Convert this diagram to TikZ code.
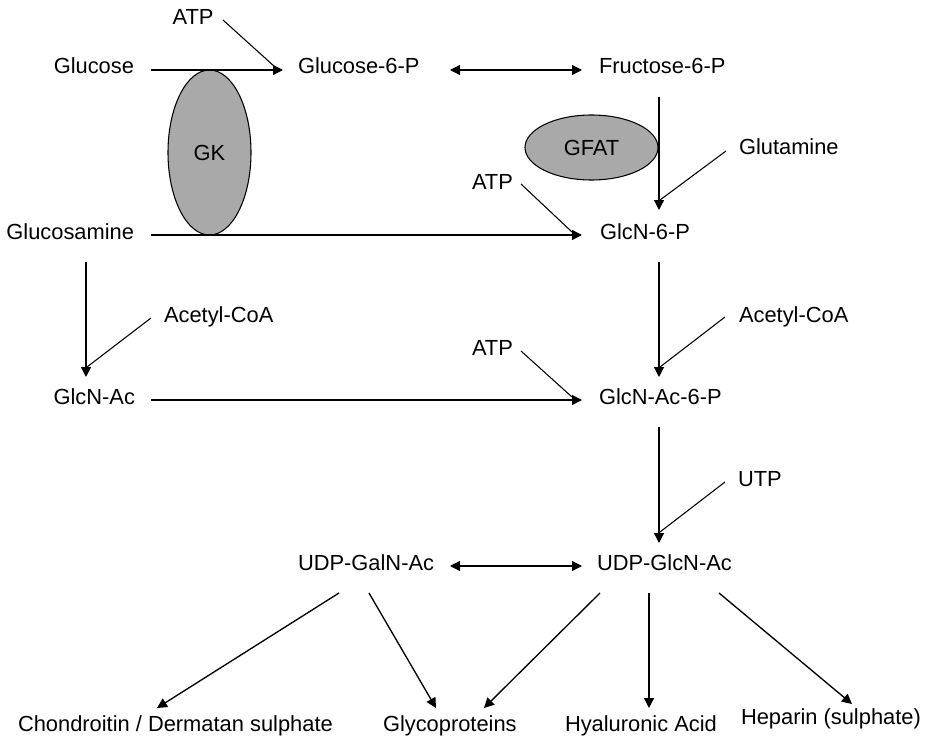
\documentclass[tikz,border=0pt]{standalone}
\usepackage{fontspec}
\setmainfont{Liberation Sans}
\usetikzlibrary{arrows.meta,calc,shapes.geometric}
\definecolor{enzgray}{RGB}{169,169,169}
\begin{document}
\begin{tikzpicture}[x=0.75pt,y=-0.75pt,
  lbl/.style={inner sep=0pt,outer sep=0pt,font=\fontsize{16.4}{19}\selectfont},
  enz/.style={ellipse,draw=black,line width=0.8pt,fill=enzgray,inner sep=0pt,font=\fontsize{16.4}{19}\selectfont},
  arr/.style={line width=1pt,-{Triangle[length=7.5pt,width=7.5pt]}},
  darr/.style={line width=1pt,{Triangle[length=7.5pt,width=7.5pt]}-{Triangle[length=7.5pt,width=7.5pt]}},
  side/.style={line width=0.8pt}]
\useasboundingbox (0,0) rectangle (936,742);
% nodes
\node[lbl,anchor=base east] (glucose) at (134,74) {Glucose};
\node[lbl,anchor=base west] (g6p) at (298,74) {Glucose-6-P};
\node[lbl,anchor=base west] (f6p) at (599,74) {Fructose-6-P};
\node[lbl,anchor=base] (atpa) at (193,25) {ATP};
\node[lbl,anchor=base east] (glucosamine) at (134,239) {Glucosamine};
\node[lbl,anchor=base west] (glcn6p) at (600,239) {GlcN-6-P};
\node[lbl,anchor=base west] (atpb) at (472,189) {ATP};
\node[lbl,anchor=base west] (glut) at (739,155) {Glutamine};
\node[lbl,anchor=base west] (acl) at (164,322) {Acetyl-CoA};
\node[lbl,anchor=base west] (acr) at (739,322) {Acetyl-CoA};
\node[lbl,anchor=base east] (glcnac) at (135,404) {GlcN-Ac};
\node[lbl,anchor=base west] (glcnac6p) at (599,404) {GlcN-Ac-6-P};
\node[lbl,anchor=base west] (atpc) at (472,355) {ATP};
\node[lbl,anchor=base west] (utp) at (738,486) {UTP};
\node[lbl,anchor=base west] (udpgal) at (298,570) {UDP-GalN-Ac};
\node[lbl,anchor=base west] (udpglc) at (597,570) {UDP-GlcN-Ac};
\node[lbl,anchor=base west] (chond) at (18,731) {Chondroitin / Dermatan sulphate};
\node[lbl,anchor=base west] (glyco) at (383,731) {Glycoproteins};
\node[lbl,anchor=base west] (hyal) at (565,731) {Hyaluronic Acid};
\node[lbl,anchor=base west] (hep) at (741,724) {Heparin (sulphate)};
% enzymes
\node[enz,minimum width=83*0.75pt,minimum height=165*0.75pt] (gk) at (209.5,152.5) {GK};
\node[enz,minimum width=133*0.75pt,minimum height=65*0.75pt] (gfat) at (591.5,147.5) {GFAT};
% horizontal arrows
\draw[arr] ($(glucose.base east)+(17,-4)$) -- ($(g6p.base west)+(-15,-4)$);
\draw[darr] ($(g6p.base west)+(152,-4)$) -- ($(f6p.base west)+(-17,-4)$);
\draw[arr] ($(glucosamine.base east)+(17,-4)$) -- ($(glcn6p.base west)+(-18,-4)$);
\draw[arr] ($(glcnac.base east)+(16,-4)$) -- ($(glcnac6p.base west)+(-17,-4)$);
\draw[darr] ($(udpgal.base west)+(152,-4)$) -- ($(udpglc.base west)+(-15,-4)$);
% vertical arrows
\draw[arr] ($(f6p.base west)+(60,23)$) -- ($(glcn6p.base west)+(59,-29)$);
\draw[arr] ($(glcn6p.base west)+(59,23)$) -- ($(glcnac6p.base west)+(60,-27)$);
\draw[arr] ($(glcnac6p.base west)+(60,23)$) -- ($(udpglc.base west)+(62,-27)$);
\draw[arr] ($(glucosamine.base east)+(-48,23)$) -- ($(glcnac.base east)+(-49,-27)$);
% side substrates
\draw[side] ($(atpa.base)+(30,-5)$) -- ($(g6p.base west)+(-23,-7)$);
\draw[side] ($(atpb.base west)+(49,-5)$) -- ($(glcn6p.base west)+(-28,-7)$);
\draw[side] ($(atpc.base west)+(49,-4)$) -- ($(glcnac6p.base west)+(-27,-7)$);
\draw[side] ($(glut.base west)+(-13,-4)$) -- ($(glcn6p.base west)+(60,-39)$);
\draw[side] ($(acr.base west)+(-14,-5)$) -- ($(glcnac6p.base west)+(61,-37)$);
\draw[side] ($(acl.base west)+(-13,-4)$) -- ($(glcnac.base east)+(-48,-37)$);
\draw[side] ($(utp.base west)+(-13,-4)$) -- ($(udpglc.base west)+(63,-38)$);
% products
\draw[arr] ($(udpgal.base west)+(41,23)$) -- ($(chond.base west)+(139,-23)$);
\draw[arr] ($(udpgal.base west)+(71,23)$) -- ($(glyco.base west)+(53,-23)$);
\draw[arr] ($(udpglc.base west)+(3,23)$) -- ($(glyco.base west)+(101,-23)$);
\draw[arr] ($(udpglc.base west)+(52,23)$) -- ($(hyal.base west)+(84,-23)$);
\draw[arr] ($(udpglc.base west)+(122,23)$) -- ($(hep.base west)+(111,-20)$);
\end{tikzpicture}
\end{document}
